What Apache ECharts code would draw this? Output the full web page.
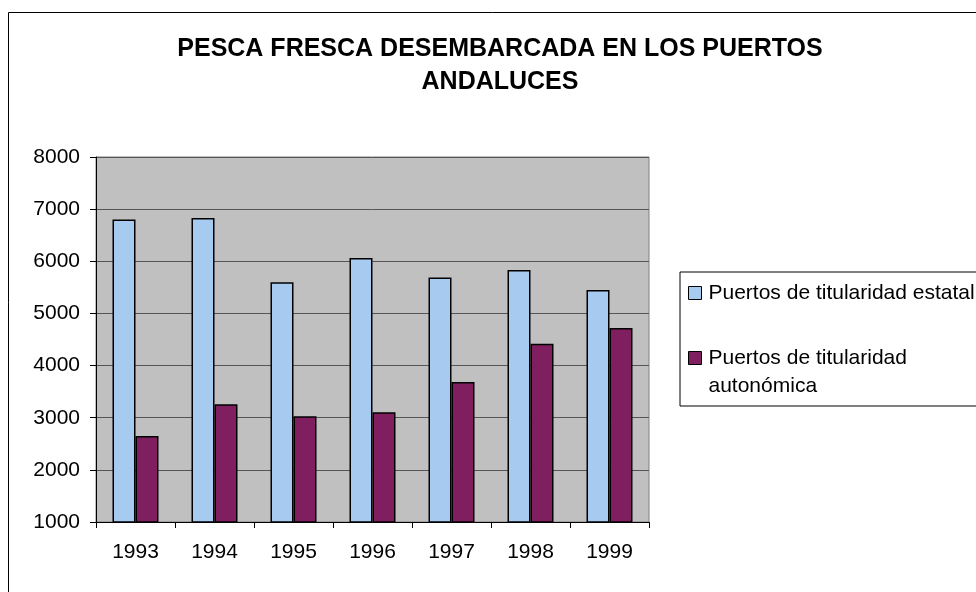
<!DOCTYPE html>
<html>
<head>
<meta charset="utf-8">
<script src="https://cdn.jsdelivr.net/npm/echarts@6/dist/echarts.min.js"></script>
<style>
  html, body { margin: 0; padding: 0; background: #fff; }
  #chart { width: 976px; height: 592px; }
</style>
</head>
<body>
<div id="chart"></div>
<script>
// datos
const years = ["1993", "1994", "1995", "1996", "1997", "1998", "1999"];
const estatal = [6800, 6830, 5600, 6065, 5690, 5835, 5450];
const autonomica = [2650, 3260, 3030, 3105, 3685, 4420, 4720];
const yTicks = [1000, 8000, 1000]; // min, max, intervalo

const font = "Liberation Sans, Arial, sans-serif";
const chart = echarts.init(document.getElementById("chart"));

chart.setOption({
  animation: false,
  textStyle: { fontFamily: font },
  title: {
    text: "PESCA FRESCA DESEMBARCADA EN LOS PUERTOS\nANDALUCES",
    left: 495,
    top: 28,
    textAlign: "center",
    textStyle: {
      fontFamily: font,
      fontSize: 25,
      fontWeight: "bold",
      color: "#000",
      lineHeight: 33,
      align: "center"
    }
  },
  graphic: [
    {
      type: "rect",
      shape: { x: 8.5, y: 12.5, width: 1000, height: 700 },
      style: { fill: "none", stroke: "#000", lineWidth: 1 },
      silent: true,
      z: -1
    }
  ],
  legend: {
    orient: "vertical",
    left: 680,
    top: 272,
    padding: [7, 20, 6, 8],
    itemWidth: 13,
    itemHeight: 13,
    itemGap: 9,
    borderColor: "#000",
    borderWidth: 1,
    icon: "rect",
    itemStyle: { borderColor: "#000", borderWidth: 1 },
    // linea vacia arriba para que el icono quede junto a la primera linea
    formatter: function (name) {
      return name.replace("Puertos de titularidad autonómica", " \nPuertos de titularidad\nautonómica");
    },
    textStyle: {
      fontFamily: font,
      fontSize: 21,
      color: "#000",
      lineHeight: 28,
      padding: [0, 0, 0, 2]
    }
  },
  grid: {
    left: 96,
    top: 157,
    right: 327,
    bottom: 70,
    show: true,
    backgroundColor: "#C0C0C0",
    borderColor: "#808080",
    borderWidth: 1
  },
  xAxis: {
    type: "category",
    data: years,
    axisLine: { lineStyle: { color: "#000", width: 1 } },
    axisTick: { show: true, length: 6, lineStyle: { color: "#000" } },
    axisLabel: { color: "#000", fontSize: 21, fontFamily: font, margin: 20 }
  },
  yAxis: {
    type: "value",
    min: yTicks[0],
    max: yTicks[1],
    interval: yTicks[2],
    axisLine: { show: true, lineStyle: { color: "#000", width: 1 } },
    axisTick: { show: true, length: 6, lineStyle: { color: "#000" } },
    axisLabel: {
      color: "#000",
      fontSize: 21,
      fontFamily: font,
      margin: 16,
      formatter: function (v) { return String(v); }
    },
    splitLine: { show: true, lineStyle: { color: "#555", width: 1 } }
  },
  series: [
    {
      name: "Puertos de titularidad estatal",
      type: "bar",
      data: estatal,
      barWidth: 23,
      barGap: "0%",
      itemStyle: { color: "#A6CAF0", borderColor: "#000", borderWidth: 1.5 }
    },
    {
      name: "Puertos de titularidad autonómica",
      type: "bar",
      data: autonomica,
      barWidth: 23,
      itemStyle: { color: "#7F1F5F", borderColor: "#000", borderWidth: 1.5 }
    }
  ]
});
</script>
</body>
</html>
